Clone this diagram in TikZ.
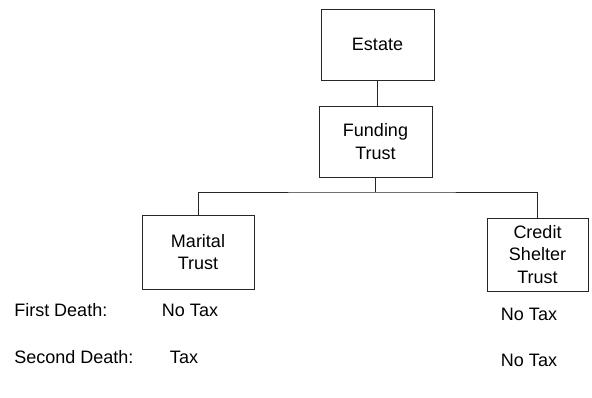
\documentclass[tikz,border=0pt]{standalone}
\usepackage{fontspec}
\setmainfont{Liberation Sans}
\usepackage{tikz}
\usetikzlibrary{positioning,calc}

\begin{document}
\begin{tikzpicture}[x=0.75pt, y=-0.75pt,
  box/.style={rectangle, draw=black!85, line width=0.6pt, align=center,
    font=\fontsize{13.5}{17}\selectfont, inner sep=2pt},
  link/.style={draw=black!85, line width=0.6pt},
  lbl/.style={font=\fontsize{13.5}{16}\selectfont, inner sep=0pt}
]
\useasboundingbox (0,0) rectangle (592,398);

% Boxes
\node[box, minimum width=84.75pt, minimum height=53.25pt] (estate) at (377.5,44.5) {Estate};
\node[box, minimum width=84.75pt, minimum height=53.25pt] (fund) at (375.5,141.5) {Funding\\Trust};
\node[box, minimum width=84pt, minimum height=55.5pt] (marital) at (198,252) {Marital\\Trust};
\node[box, minimum width=75.75pt, minimum height=54.75pt] (credit) at (537.5,254.5) {Credit\\Shelter\\Trust};

% Connectors
\coordinate (bar) at (376,192);
\draw[link] (estate.south) -- (estate.south |- fund.north);
\draw[link] (fund.south) -- (fund.south |- bar);
\draw[link] (marital.north) |- (bar) -| (credit.north);

% Tax rows
\node[lbl, anchor=west] (first) at (14,310) {First Death:};
\node[lbl] (firstm) at (190,310) {No Tax};
\node[lbl] (firstc) at (529,314) {No Tax};
\node[lbl, anchor=west] (second) at (14,357) {Second Death:};
\node[lbl] (secondm) at (184,357) {Tax};
\node[lbl] (secondc) at (529,360) {No Tax};

\end{tikzpicture}
\end{document}
